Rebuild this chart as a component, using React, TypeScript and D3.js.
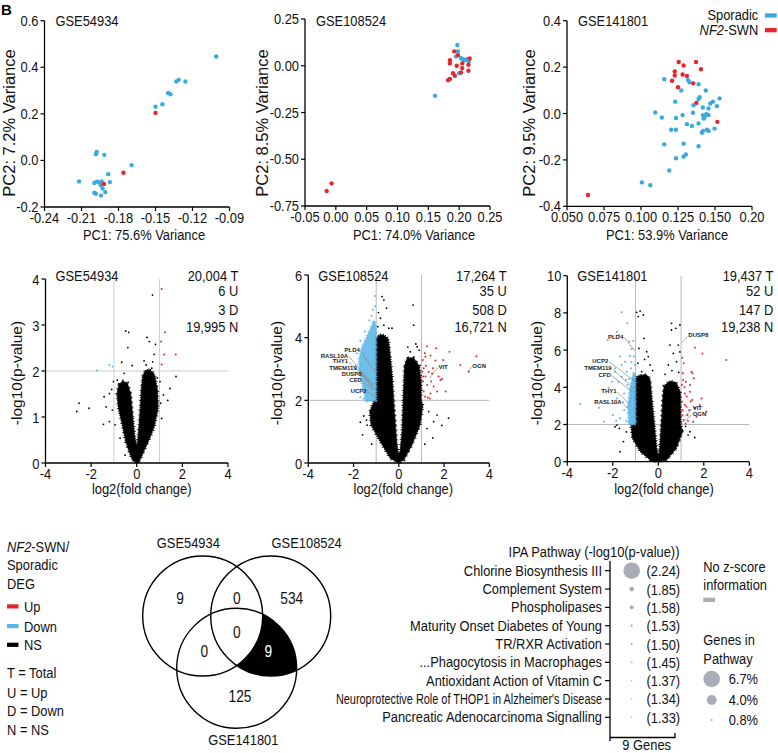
import React from 'react';
import * as d3 from 'd3';

const FONT = "'Liberation Sans', Arial, Helvetica, sans-serif";
const C_BLUE = '#3aa9e1';
const C_RED = '#e8252a';
const C_VBLUE = '#55b5e8';
const C_GREY = '#a9aeb6';

type P = [number, number];

// ---------------- PCA data ----------------
const pcaTitles = ['GSE54934', 'GSE108524', 'GSE141801'];
const pcaXTitles = ['PC1: 75.6% Variance', 'PC1: 74.0% Variance', 'PC1: 53.9% Variance'];
const pcaYTitles = ['PC2: 7.2% Variance', 'PC2: 8.5% Variance', 'PC2: 9.5% Variance'];
const groupNames = ['Sporadic', 'NF2-SWN'];

const pca1XTicks = [-0.24, -0.21, -0.18, -0.15, -0.12, -0.09];
const pca1XLabels = ['-0.24', '-0.21', '-0.18', '-0.15', '-0.12', '-0.09'];
const pca1YTicks = [-0.2, 0, 0.2, 0.4, 0.6];
const pca1YLabels = ['-0.2', '0.0', '0.2', '0.4', '0.6'];
const pca2XTicks = [-0.05, 0, 0.05, 0.1, 0.15, 0.2, 0.25];
const pca2XLabels = ['-0.05', '0.00', '0.05', '0.10', '0.15', '0.20', '0.25'];
const pca2YTicks = [-0.75, -0.5, -0.25, 0, 0.25];
const pca2YLabels = ['-0.75', '-0.50', '-0.25', '0.00', '0.25'];
const pca3XTicks = [0.05, 0.075, 0.1, 0.125, 0.15, 0.175];
const pca3XLabels = ['0.050', '0.075', '0.100', '0.125', '0.150', '0.20'];
const pca3YTicks = [-0.4, -0.2, 0, 0.2, 0.4];
const pca3YLabels = ['-0.4', '-0.2', '0.0', '0.2', '0.4'];

const pca1Sporadic: P[] = [
  [-0.1008, 0.446], [-0.1312, 0.346], [-0.1331, 0.339], [-0.1258, 0.339], [-0.1398, 0.29], [-0.1379, 0.284],
  [-0.1444, 0.241], [-0.150, 0.231], [-0.212, -0.09], [-0.1977, 0.036], [-0.1983, 0.027], [-0.1915, 0.024],
  [-0.1694, -0.02], [-0.1883, -0.059], [-0.187, -0.093], [-0.1996, -0.097], [-0.1975, -0.091], [-0.1955, -0.096],
  [-0.1937, -0.09], [-0.1942, -0.107], [-0.1929, -0.121], [-0.1907, -0.136], [-0.1942, -0.151], [-0.1983, -0.143],
  [-0.1996, -0.139],
];
const pca1NF2: P[] = [[-0.150, 0.204], [-0.1918, -0.101], [-0.176, -0.053]];

const pca2Sporadic: P[] = [
  [0.1608, -0.161], [0.197, 0.111], [0.198, 0.077], [0.203, 0.04], [0.208, 0.03], [0.212, 0.035],
  [0.216, 0.025], [0.205, 0.037], [0.2, -0.04], [0.21, 0.03], [0.195, 0.05],
];
const pca2NF2: P[] = [
  [-0.0149, -0.67], [-0.0068, -0.629], [0.192, 0.077], [0.198, 0.057], [0.185, 0.03], [0.185, 0.0125],
  [0.196, 0.0], [0.205, 0.0125], [0.205, -0.0125], [0.215, 0.005], [0.217, 0.039], [0.215, -0.027],
  [0.19, -0.04], [0.193, -0.054], [0.182, -0.077], [0.185, -0.071], [0.203, -0.036],
];

const pca3Sporadic: P[] = [
  [0.1157, 0.148], [0.1317, 0.145], [0.1328, 0.135], [0.1389, 0.126], [0.1272, 0.099], [0.1438, 0.099],
  [0.1396, 0.070], [0.1389, 0.062], [0.1231, 0.051], [0.1355, 0.036], [0.1486, 0.051], [0.1513, 0.032],
  [0.1531, 0.065], [0.1418, 0.026], [0.1456, 0.022], [0.1096, 0.004], [0.1141, -0.017], [0.1236, -0.019],
  [0.1281, -0.007], [0.1351, 0.003], [0.1418, -0.007], [0.1429, -0.017], [0.1441, -0.003], [0.1456, -0.007],
  [0.1423, -0.022], [0.131, -0.046], [0.1344, -0.054], [0.1389, -0.043], [0.1204, -0.070], [0.1236, -0.070],
  [0.1411, -0.083], [0.1418, -0.075], [0.1445, -0.070], [0.1456, -0.075], [0.1497, -0.065], [0.1157, -0.133],
  [0.1288, -0.130], [0.1389, -0.141], [0.1236, -0.193], [0.1288, -0.186], [0.1303, -0.177], [0.1191, -0.246],
  [0.1006, -0.297], [0.1063, -0.309], [0.1468, 0.043],
];
const pca3NF2: P[] = [
  [0.0642, -0.351], [0.1255, 0.222], [0.1288, 0.207], [0.1372, 0.222], [0.1405, 0.191], [0.1228, 0.181],
  [0.1228, 0.164], [0.121, 0.141], [0.1281, 0.168], [0.131, 0.162], [0.125, 0.113], [0.1353, 0.130],
  [0.1374, 0.046], [0.1516, -0.036],
];

// ---------------- Volcano data ----------------
const volcTitles = ['GSE54934', 'GSE108524', 'GSE141801'];
const volcStats = [
  ['20,004 T', '6 U', '3 D', '19,995 N'],
  ['17,264 T', '35 U', '508 D', '16,721 N'],
  ['19,437 T', '52 U', '147 D', '19,238 N'],
];
const volcXTicks = [-4, -2, 0, 2, 4];
const volc1YTicks = [0, 1, 2, 3, 4];
const volc2YTicks = [0, 2, 4, 6];
const volc3YTicks = [0, 2, 4, 6, 8, 10];

// dense non-significant cloud outlines (log2FC, -log10 p)
const v1Core: P[] = [
  [-0.05, 0], [-0.22, 0.1], [-0.48, 0.46], [-0.63, 0.83], [-0.8, 1.19], [-0.86, 1.5], [-0.78, 1.72], [-0.6, 1.77],
  [-0.42, 1.74], [-0.27, 1.5], [-0.18, 1.0], [-0.1, 0.6], [-0.03, 0.4], [0.03, 0.4], [0.1, 0.8], [0.16, 1.2],
  [0.21, 1.6], [0.27, 1.9], [0.4, 2.02], [0.6, 2.02], [0.77, 1.92], [0.9, 1.6], [0.93, 1.2], [0.77, 0.8],
  [0.53, 0.5], [0.3, 0.25], [0.12, 0.05], [0.05, 0],
];
const v1NS: P[] = [
  [0.69, 3.65], [-0.48, 2.87], [-0.35, 2.84], [-0.39, 2.51], [0.45, 2.73], [0.55, 2.64], [0.82, 2.58], [0.76, 2.36],
  [0.32, 2.22], [-0.66, 2.19], [-0.2, 2.12], [0.41, 2.13], [0.66, 2.06], [1.72, 1.88], [1.46, 1.62], [1.36, 1.36],
  [-2.53, 1.3], [-2.63, 1.12], [-2.09, 1.19], [-1.46, 0.84], [-1.34, 1.22], [-1.2, 1.51], [-1.43, 1.44], [-1.02, 1.77],
  [-0.85, 1.8], [1.02, 1.77], [1.17, 1.48], [0.88, 1.12], [-0.95, 0.83], [-0.73, 0.54], [-0.51, 0.17], [0.58, 0.68],
  [1.09, 0.97], [-1.07, 1.15], [-1.1, 1.6], [0.9, 1.85], [1.05, 1.3], [-1.2, 0.9], [0.7, 2.2], [-0.55, 1.95],
];
const v1Down: P[] = [[-1.75, 2.01], [-1.2, 2.13], [-1.06, 2.1]];
const v1Up: P[] = [[1.09, 3.78], [1.24, 2.84], [1.07, 2.64], [1.2, 2.36], [1.71, 2.36], [1.09, 2.14]];

const v2Core: P[] = [
  [0, 0], [-0.37, 0.15], [-0.81, 0.68], [-1.22, 1.21], [-1.28, 1.64], [-1.08, 1.98], [-1.0, 2.0], [-1.0, 4.0],
  [-0.8, 4.1], [-0.6, 4.05], [-0.46, 3.95], [-0.3, 2.8], [-0.2, 1.64], [-0.1, 0.68], [-0.03, 0.3], [0.05, 0.3],
  [0.15, 1.0], [0.2, 2.06], [0.26, 3.1], [0.38, 3.35], [0.65, 3.35], [0.9, 3.1], [0.98, 2.6], [0.98, 2.0],
  [1.06, 1.85], [0.93, 1.21], [0.57, 0.57], [0.22, 0.1],
];
const v2NS: P[] = [
  [-0.74, 5.31], [-0.66, 5.2], [-0.54, 4.94], [-0.81, 4.62], [-0.66, 4.4], [-0.93, 4.35], [-0.44, 4.3], [0.63, 5.04],
  [0.66, 4.4], [0.81, 3.71], [0.51, 3.55], [2.2, 1.43], [1.69, 1.53], [1.54, 1.32], [-1.4, 1.21], [-1.43, 1.37],
  [1.25, 1.1], [1.32, 1.64], [-1.55, 1.5], [-1.6, 0.9], [-1.2, 0.6], [1.5, 0.8], [0.9, 3.6], [0.75, 3.8],
  [0.4, 3.7], [-0.3, 4.3], [-0.9, 4.8], [1.9, 1.2], [-1.7, 1.3], [1.15, 0.6],
];
const v2DownCore: P[] = [
  [-1.0, 1.98], [-1.45, 1.98], [-1.58, 2.4], [-1.72, 2.9], [-1.76, 3.3], [-1.62, 3.7], [-1.43, 4.0], [-1.24, 4.3],
  [-1.1, 4.55], [-1.02, 4.4], [-1.0, 4.0],
];
const v2Down: P[] = [
  [-1.06, 5.33], [-1.15, 4.9], [-1.3, 4.55], [-1.5, 4.2], [-1.9, 3.1], [-1.7, 2.1], [-1.55, 2.05], [-1.9, 2.6],
  [-1.05, 5.0], [-1.2, 4.7], [-1.85, 3.5], [-1.7, 3.9],
];
const v2Up: P[] = [
  [1.25, 3.73], [1.65, 3.66], [1.15, 3.5], [1.4, 3.43], [1.62, 3.27], [1.96, 3.29], [2.24, 3.55], [1.1, 3.02],
  [1.32, 2.91], [1.18, 2.76], [1.47, 2.86], [1.76, 2.76], [1.91, 2.68], [1.07, 2.6], [1.25, 2.49], [1.54, 2.44],
  [1.1, 2.28], [1.4, 2.22], [1.16, 2.12], [1.28, 2.09], [1.37, 2.06], [1.04, 2.91], [1.07, 2.76], [2.72, 3.13],
  [3.1, 2.91], [3.43, 3.41], [1.84, 2.65], [1.01, 2.36], [1.69, 2.28], [1.18, 3.39], [1.06, 3.29], [1.43, 2.6],
  [2.07, 2.28], [1.51, 3.02], [1.2, 3.1],
];

const v3Core: P[] = [
  [0, 0], [-0.29, 0.04], [-0.78, 0.54], [-1.13, 1.25], [-1.2, 1.97], [-1.0, 2.0], [-1.0, 4.45], [-0.92, 4.6],
  [-0.6, 4.68], [-0.45, 4.6], [-0.37, 4.42], [-0.26, 3.05], [-0.16, 1.79], [-0.08, 0.72], [-0.02, 0.4], [0.04, 0.4],
  [0.14, 1.97], [0.2, 3.4], [0.26, 4.08], [0.51, 4.33], [0.78, 4.25], [0.96, 3.76], [0.98, 2.0], [1.06, 1.61],
  [0.78, 0.72], [0.36, 0.09],
];
const v3NS: P[] = [
  [-0.95, 8.03], [-0.8, 8.1], [-0.66, 7.89], [-0.88, 7.8], [0.58, 7.44], [0.95, 7.35], [0.77, 7.17], [0.58, 7.08],
  [-0.63, 6.63], [-0.51, 5.91], [-0.85, 6.09], [-0.44, 5.65], [0.51, 6.27], [0.66, 5.82], [0.88, 6.27], [0.44, 5.2],
  [0.8, 5.38], [-0.36, 5.2], [-0.73, 4.84], [-1.71, 1.79], [-1.82, 1.97], [-1.53, 1.08], [1.39, 1.61], [1.31, 1.43],
  [0.9, 4.8], [0.3, 4.7], [-0.9, 5.3], [-0.6, 5.5], [1.6, 1.3], [-1.4, 1.6], [0.95, 5.9], [0.6, 4.9],
  [-0.25, 4.9], [1.2, 1.9], [1.05, 1.7], [-1.9, 1.88], [-1.68, 0.54],
];
const v3DownCore: P[] = [[-1.0, 2.0], [-1.28, 2.0], [-1.33, 3.0], [-1.23, 4.0], [-1.1, 4.7], [-1.0, 4.7]];
const v3Down: P[] = [
  [-1.61, 8.03], [-1.36, 7.44], [-1.82, 6.99], [-1.72, 6.81], [-2.23, 6.54], [-1.28, 6.45], [-1.17, 6.06], [-1.68, 5.65],
  [-1.46, 5.38], [-1.2, 5.02], [-1.9, 4.84], [-1.75, 4.3], [-1.42, 4.39], [-1.09, 4.75], [-1.02, 4.12], [-1.24, 3.85],
  [-1.5, 3.67], [-2.19, 3.98], [-3.43, 3.1], [-1.24, 3.23], [-1.09, 2.87], [-1.31, 2.6], [-1.68, 2.33], [-1.02, 2.24],
  [-1.17, 3.4], [-1.05, 3.58], [-1.12, 4.48], [-1.02, 5.2], [-1.07, 5.65], [-1.39, 4.84], [-1.61, 4.57], [-1.82, 3.4],
  [-1.31, 2.96], [-1.5, 2.78], [-1.17, 2.42], [-1.05, 2.06], [-1.27, 2.15], [-1.02, 3.05], [-1.09, 3.76], [-1.36, 4.12],
  [-1.9, 5.02], [-1.61, 5.2], [-2.04, 4.3], [-2.38, 2.15], [-2.0, 2.51], [-1.12, 2.3], [-1.22, 2.7], [-1.08, 3.3],
  [-1.15, 3.95], [-1.28, 4.45], [-1.05, 4.4], [-1.18, 5.35], [-1.55, 3.2], [-1.4, 2.2], [-1.85, 2.2], [-2.6, 2.9],
  [-1.1, 6.5], [-1.25, 5.7],
];
const v3Up: P[] = [
  [1.61, 6.13], [1.94, 5.82], [2.99, 5.47], [1.05, 5.59], [1.46, 4.84], [1.5, 4.75], [1.09, 4.39], [1.21, 4.3],
  [1.56, 4.48], [1.39, 4.12], [1.9, 3.4], [1.49, 3.32], [1.42, 3.23], [1.17, 3.67], [1.24, 2.96], [1.07, 2.78],
  [1.28, 2.51], [1.12, 2.24], [1.02, 2.06], [1.2, 2.06], [1.53, 2.15], [1.36, 2.78], [1.68, 2.42], [1.04, 3.23],
  [1.04, 4.12], [1.08, 4.75], [1.12, 5.29], [1.39, 3.76], [1.82, 3.05], [2.12, 2.69], [1.17, 3.05], [1.3, 2.2],
  [1.06, 2.5], [1.25, 3.5], [1.6, 2.9], [1.15, 4.0],
];

// gene annotations: [gene, label x, label y, point x, point y] in data units
type Ann = [string, number, number, number, number];
const v2Genes: Ann[] = [
  ['PLD4', -1.72, 3.54, -1.05, 2.9],
  ['RASL10A', -2.24, 3.36, -1.13, 2.51],
  ['THY1', -2.24, 3.19, -1.13, 2.47],
  ['TMEM119', -1.86, 2.97, -1.13, 2.38],
  ['DUSP8', -1.64, 2.79, -1.1, 2.35],
  ['CFD', -1.64, 2.6, -1.19, 2.33],
  ['UCP2', -1.42, 2.23, -1.05, 2.14],
  ['VIT', 1.75, 3.0, 1.38, 2.72],
  ['OGN', 3.25, 3.03, 3.03, 2.9],
];
const v3Genes: Ann[] = [
  ['PLD4', -1.54, 6.62, -1.02, 5.95],
  ['UCP2', -2.2, 5.33, -1.02, 4.3],
  ['TMEM119', -2.05, 4.93, -1.1, 3.95],
  ['CFD', -2.09, 4.58, -1.17, 3.76],
  ['THY1', -1.83, 3.69, -1.17, 2.96],
  ['RASL10A', -1.61, 3.1, -1.24, 2.78],
  ['DUSP8', 1.32, 6.68, 1.03, 6.37],
  ['VIT', 1.51, 2.78, 1.17, 2.42],
  ['OGN', 1.51, 2.46, 1.1, 2.15],
];

// ---------------- Legend / Venn / IPA data ----------------
const degLegend = ['Up', 'Down', 'NS'];
const degLegendColors = [C_RED, C_VBLUE, '#000'];
const abbrevLegend = ['T = Total', 'U = Up', 'D = Down', 'N = NS'];

const vennSets = ['GSE54934', 'GSE108524', 'GSE141801'];
const vennRegions = ['A', 'AB', 'B', 'ABC', 'AC', 'BC', 'C'];
const vennCounts = [9, 0, 534, 0, 0, 9, 125];

const pathways = [
  'Chlorine Biosynthesis III',
  'Complement System',
  'Phospholipases',
  'Maturity Onset Diabetes of Young',
  'TR/RXR Activation',
  '...Phagocytosis in Macrophages',
  'Antioxidant Action of Vitamin C',
  "Neuroprotective Role of THOP1 in Alzheimer's Disease",
  'Pancreatic Adenocarcinoma Signalling',
];
const pathwayLogP = [2.24, 1.85, 1.58, 1.53, 1.50, 1.45, 1.37, 1.34, 1.33];
const pathwayGenePct = [6.7, 1.9, 1.6, 0.9, 0.8, 0.7, 0.6, 0.6, 0.6];
const sizeLegendPct = [6.7, 4.0, 0.8];

// ---------------- helpers ----------------
function T(props: any) {
  const { x, y, size = 15, sx = 0.86, anchor = 'start', rotate = 0, fill = '#111', weight = 'normal', italic = false, children } = props;
  const tr = `translate(${x},${y})` + (rotate ? ` rotate(${rotate})` : '') + (sx !== 1 ? ` scale(${sx},1)` : '');
  return (
    <text transform={tr} fontSize={size} textAnchor={anchor} fill={fill} fontWeight={weight}
      fontStyle={italic ? 'italic' : 'normal'} fontFamily={FONT}>{children}</text>
  );
}

function PCAPanel(props: any) {
  const { idx, xDomain, yDomain, xr, yr, xTicks, xLabels, yTicks, yLabels, sporadic, nf2, xTitleX, yTitleX } = props;
  const x = d3.scaleLinear().domain(xDomain).range(xr);
  const y = d3.scaleLinear().domain(yDomain).range(yr);
  return (
    <g>
      {sporadic.map((d: P, i: number) => <circle key={'s' + i} cx={x(d[0])} cy={y(d[1])} r={2.2} fill={C_BLUE} />)}
      {nf2.map((d: P, i: number) => <circle key={'n' + i} cx={x(d[0])} cy={y(d[1])} r={2.2} fill={C_RED} />)}
      <line x1={xr[0]} x2={xr[0]} y1={yr[0]} y2={yr[1]} stroke="#000" strokeWidth={1.3} />
      <line x1={xr[0]} x2={xr[1]} y1={yr[0]} y2={yr[0]} stroke="#000" strokeWidth={1.3} />
      {yTicks.map((t: number, i: number) => (
        <g key={'y' + i}>
          <line x1={xr[0] - 4} x2={xr[0]} y1={y(t)} y2={y(t)} stroke="#000" strokeWidth={1.2} />
          <T x={xr[0] - 6} y={y(t) + 5} anchor="end">{yLabels[i]}</T>
        </g>
      ))}
      {xTicks.map((t: number, i: number) => (
        <g key={'x' + i}>
          <line x1={x(t)} x2={x(t)} y1={yr[0]} y2={yr[0] + 4} stroke="#000" strokeWidth={1.2} />
          <T x={x(t)} y={yr[0] + 16} anchor="middle">{xLabels[i]}</T>
        </g>
      ))}
      <T x={xr[0] + 11} y={26}>{pcaTitles[idx]}</T>
      <T x={xTitleX} y={240} anchor="middle">{pcaXTitles[idx]}</T>
      <T x={yTitleX} y={123} anchor="middle" rotate={-90} sx={1} size={16.5}>{pcaYTitles[idx]}</T>
    </g>
  );
}

function Cloud(props: any) {
  const { d, color, opacity = 1 } = props;
  return (
    <g opacity={opacity}>
      <path d={d} fill={color} stroke={color} strokeWidth={0.6} strokeLinejoin="round" />
      <path d={d} fill="none" stroke={color} strokeWidth={2} strokeDasharray="0.8 1.7" />
      <path d={d} fill="none" stroke={color} strokeWidth={3.6} strokeDasharray="0.7 4.2" strokeDashoffset={1.5} />
    </g>
  );
}

function Volcano(props: any) {
  const { idx, xr, yr, yMax, yTicks, core, ns, downCore, down, up, genes, lineColor, yTitleX, xTitleX, statsRight } = props;
  const x = d3.scaleLinear().domain([-4, 4]).range(xr);
  const y = d3.scaleLinear().domain([0, yMax]).range(yr);
  const area = d3.line<P>().x(d => x(d[0])).y(d => y(d[1])).curve(d3.curveLinearClosed);
  const statY = [281, 296, 315, 332];
  return (
    <g>
      <line x1={x(-4)} x2={x(4)} y1={y(2)} y2={y(2)} stroke={lineColor} strokeWidth={1} />
      <line x1={x(-1)} x2={x(-1)} y1={y(0)} y2={y(yMax)} stroke={lineColor} strokeWidth={1} />
      <line x1={x(1)} x2={x(1)} y1={y(0)} y2={y(yMax)} stroke={lineColor} strokeWidth={1} />
      <Cloud d={area(core) || ''} color="#000" />
      {ns.map((d: P, i: number) => <circle key={'k' + i} cx={x(d[0])} cy={y(d[1])} r={0.9} fill="#000" />)}
      {downCore && <Cloud d={area(downCore) || ''} color={C_VBLUE} opacity={0.85} />}
      {down.map((d: P, i: number) => <circle key={'b' + i} cx={x(d[0])} cy={y(d[1])} r={1} fill={C_VBLUE} />)}
      {up.map((d: P, i: number) => <circle key={'r' + i} cx={x(d[0])} cy={y(d[1])} r={1} fill={C_RED} />)}
      {genes && genes.map((g: Ann, i: number) => {
        const left = g[1] < g[3];
        const lx = x(g[1]);
        const ly = y(g[2]);
        return (
          <g key={'g' + i}>
            <line x1={left ? lx + 1 : lx - 1} y1={ly - 1} x2={x(g[3])} y2={y(g[4])} stroke="#888" strokeWidth={0.7} />
            <T x={lx} y={ly} size={6} sx={1} weight="bold" anchor={left ? 'end' : 'start'} fill="#222">{g[0]}</T>
          </g>
        );
      })}
      <line x1={xr[0]} x2={xr[0]} y1={yr[0]} y2={yr[1]} stroke="#000" strokeWidth={1.3} />
      <line x1={xr[0]} x2={xr[1]} y1={yr[0]} y2={yr[0]} stroke="#000" strokeWidth={1.3} />
      {yTicks.map((t: number, i: number) => (
        <g key={'yt' + i}>
          <line x1={xr[0] - 4} x2={xr[0]} y1={y(t)} y2={y(t)} stroke="#000" strokeWidth={1.2} />
          <T x={xr[0] - 6} y={y(t) + 5.5} anchor="end">{String(t)}</T>
        </g>
      ))}
      {volcXTicks.map((t: number, i: number) => (
        <g key={'xt' + i}>
          <line x1={x(t)} x2={x(t)} y1={yr[0]} y2={yr[0] + 4} stroke="#000" strokeWidth={1.2} />
          <T x={x(t)} y={yr[0] + 16} anchor="middle">{String(t)}</T>
        </g>
      ))}
      <T x={xr[0] + 10} y={281}>{volcTitles[idx]}</T>
      {volcStats[idx].map((s: string, i: number) => (
        <T key={'st' + i} x={statsRight} y={statY[i]} anchor="end">{s}</T>
      ))}
      <T x={xTitleX} y={494} anchor="middle">log2(fold change)</T>
      <T x={yTitleX} y={373} anchor="middle" rotate={-90} sx={1} size={15.5}>-log10(p-value)</T>
    </g>
  );
}

function Venn() {
  const r = 60;
  const C = [[202.7, 616], [270.7, 616], [236.7, 668.3]];
  const regionPos: Record<string, P> = {
    A: [180, 598.3], AB: [236.7, 598.3], B: [291.7, 598.3], ABC: [236.7, 632.3],
    AC: [204.3, 651.7], BC: [268.3, 651], C: [240, 696.7],
  };
  const labelPos: P[] = [[188.3, 548], [306.7, 548], [243.3, 745]];
  return (
    <g>
      <defs>
        <clipPath id="vennClipB"><circle cx={C[1][0]} cy={C[1][1]} r={r} /></clipPath>
        <mask id="vennNotA">
          <rect x={0} y={0} width={778} height={753} fill="#fff" />
          <circle cx={C[0][0]} cy={C[0][1]} r={r} fill="#000" />
        </mask>
      </defs>
      <g clipPath="url(#vennClipB)">
        <circle cx={C[2][0]} cy={C[2][1]} r={r} fill="#000" mask="url(#vennNotA)" />
      </g>
      {C.map((c, i) => <circle key={i} cx={c[0]} cy={c[1]} r={r} fill="none" stroke="#000" strokeWidth={1.4} />)}
      {vennRegions.map((k, i) => (
        <T key={k} x={regionPos[k][0]} y={regionPos[k][1] + 5.5} anchor="middle" size={16}
          fill={k === 'BC' ? '#fff' : '#111'}>{String(vennCounts[i])}</T>
      ))}
      {vennSets.map((s, i) => <T key={s} x={labelPos[i][0]} y={labelPos[i][1]} anchor="middle">{s}</T>)}
    </g>
  );
}

function IPA() {
  const axX = 610;
  const rows = d3.scalePoint<string>().domain(pathways).range([570.7, 717.3]);
  const rScale = d3.scaleLinear().domain([0, 6.7]).range([0, 8.3]);
  const bx = 631.7;
  const legY = [679, 700, 720];
  return (
    <g>
      <T x={594} y={557} anchor="middle">IPA Pathway (-log10(p-value))</T>
      <line x1={axX} x2={axX} y1={561} y2={741} stroke="#000" strokeWidth={1.3} />
      <line x1={axX} x2={675} y1={737.5} y2={737.5} stroke="#000" strokeWidth={1.3} />
      <line x1={675} x2={675} y1={733} y2={738} stroke="#000" strokeWidth={1.3} />
      <T x={646.7} y={750} anchor="middle">9 Genes</T>
      {pathways.map((p, i) => {
        const yy = rows(p) as number;
        const long = p.length > 40;
        return (
          <g key={p}>
            <line x1={axX - 5} x2={axX} y1={yy} y2={yy} stroke="#000" strokeWidth={1.2} />
            <T x={602} y={yy + 5} anchor="end" sx={long ? 0.727 : 0.86}>{p}</T>
            <circle cx={bx} cy={yy} r={rScale(pathwayGenePct[i])} fill={C_GREY} />
            <T x={663.3} y={yy + 5.5} anchor="middle">{'(' + pathwayLogP[i].toFixed(2) + ')'}</T>
          </g>
        );
      })}
      <T x={703.3} y={572}>No z-score</T>
      <T x={703.3} y={590}>information</T>
      <rect x={703.3} y={597.7} width={11.7} height={4.3} fill={C_GREY} />
      <T x={703.3} y={645}>Genes in</T>
      <T x={703.3} y={663.5}>Pathway</T>
      {sizeLegendPct.map((p, i) => (
        <g key={'sl' + i}>
          <circle cx={711.7} cy={legY[i]} r={rScale(p)} fill={C_GREY} />
          <T x={758} y={legY[i] + 4.5} anchor="end">{p.toFixed(1) + '%'}</T>
        </g>
      ))}
    </g>
  );
}

function DegLegend() {
  const swY = [604.3, 624, 642.7];
  const txtY = [612, 631.5, 650];
  const abY = [678, 698, 716, 734.5];
  return (
    <g>
      <T x={7} y={552}><tspan fontStyle="italic">NF2</tspan>-SWN/</T>
      <T x={7} y={570}>Sporadic</T>
      <T x={7} y={588.5}>DEG</T>
      {degLegend.map((d, i) => (
        <g key={d}>
          <rect x={7} y={swY[i]} width={11.5} height={4.2} fill={degLegendColors[i]} />
          <T x={24} y={txtY[i]}>{d}</T>
        </g>
      ))}
      {abbrevLegend.map((d, i) => <T key={d} x={7} y={abY[i]}>{d}</T>)}
    </g>
  );
}

export default function App() {
  return (
    <div style={{ position: 'absolute', left: 0, top: 0, background: '#fff' }}>
      <svg width={778} height={753} viewBox="0 0 778 753" style={{ display: 'block' }}>
        <rect x={0} y={0} width={778} height={753} fill="#fff" />
        <T x={1} y={15} size={15} sx={1} weight="bold" fill="#000">B</T>

        <PCAPanel idx={0} xDomain={[-0.24, -0.09]} yDomain={[-0.2, 0.6]} xr={[44.5, 229.5]} yr={[207, 20.7]}
          xTicks={pca1XTicks} xLabels={pca1XLabels} yTicks={pca1YTicks} yLabels={pca1YLabels}
          sporadic={pca1Sporadic} nf2={pca1NF2} xTitleX={144} yTitleX={15} />
        <PCAPanel idx={1} xDomain={[-0.05, 0.25]} yDomain={[-0.75, 0.25]} xr={[305, 490]} yr={[206, 19]}
          xTicks={pca2XTicks} xLabels={pca2XLabels} yTicks={pca2YTicks} yLabels={pca2YLabels}
          sporadic={pca2Sporadic} nf2={pca2NF2} xTitleX={414} yTitleX={268} />
        <PCAPanel idx={2} xDomain={[0.05, 0.175]} yDomain={[-0.4, 0.4]} xr={[567, 752]} yr={[206.3, 20.7]}
          xTicks={pca3XTicks} xLabels={pca3XLabels} yTicks={pca3YTicks} yLabels={pca3YLabels}
          sporadic={pca3Sporadic} nf2={pca3NF2} xTitleX={667} yTitleX={534.5} />

        {/* group legend */}
        <T x={758.3} y={20} anchor="end">{groupNames[0]}</T>
        <rect x={765} y={13.3} width={11.7} height={4.3} fill={C_BLUE} />
        <T x={758.3} y={35} anchor="end"><tspan fontStyle="italic">NF2</tspan>-SWN</T>
        <rect x={765} y={28} width={11.7} height={4.3} fill={C_RED} />

        <Volcano idx={0} xr={[45.5, 228]} yr={[463, 279]} yMax={4} yTicks={volc1YTicks}
          core={v1Core} ns={v1NS} down={v1Down} up={v1Up} lineColor="#c6cddd"
          yTitleX={22} xTitleX={141.7} statsRight={238.3} />
        <Volcano idx={1} xr={[308.3, 489.3]} yr={[463, 275]} yMax={6} yTicks={volc2YTicks}
          core={v2Core} ns={v2NS} downCore={v2DownCore} down={v2Down} up={v2Up} genes={v2Genes} lineColor="#b8b8b8"
          yTitleX={282} xTitleX={403.3} statsRight={506.7} />
        <Volcano idx={2} xr={[567.3, 749.3]} yr={[461.7, 275.7]} yMax={10} yTicks={volc3YTicks}
          core={v3Core} ns={v3NS} downCore={v3DownCore} down={v3Down} up={v3Up} genes={v3Genes} lineColor="#b8b8b8"
          yTitleX={542} xTitleX={664} statsRight={773.3} />

        <DegLegend />
        <Venn />
        <IPA />
      </svg>
    </div>
  );
}
